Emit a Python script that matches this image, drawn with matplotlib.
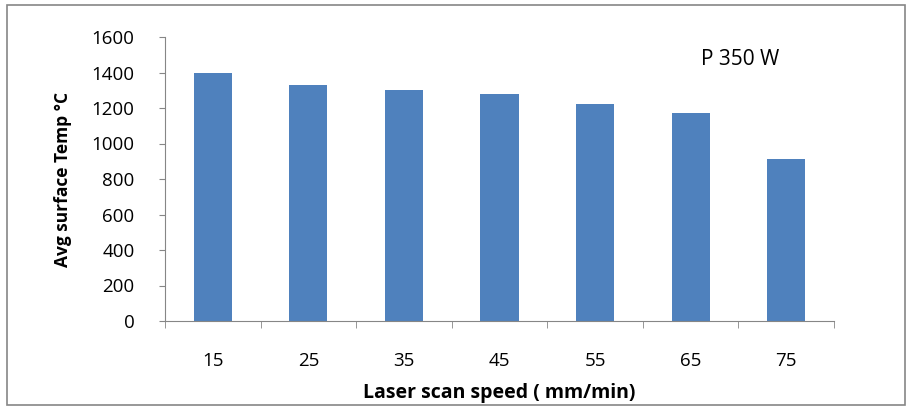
import matplotlib.pyplot as plt
import numpy as np
from matplotlib.patches import Rectangle

speeds = ['15', '25', '35', '45', '55', '65', '75']
temps = [1400, 1330, 1300, 1280, 1220, 1170, 915]
yticks = [0, 200, 400, 600, 800, 1000, 1200, 1400, 1600]

plt.rcParams['font.family'] = ['Open Sans', 'DejaVu Sans']

fig = plt.figure(figsize=(9.11, 4.07), dpi=100)
ax = fig.add_axes([165/911, 1 - 321/407, (834 - 165)/911, (321 - 37)/407])

x = np.arange(len(speeds))
ax.bar(x, temps, width=0.4, color='#4F81BD', zorder=2)

ax.set_xlim(-0.5, len(speeds) - 0.5)
ax.set_ylim(0, 1600)
ax.set_yticks(yticks)
ax.set_yticklabels([str(v) for v in yticks], fontsize=13.5)
ax.set_xticks(x)
ax.set_xticklabels(speeds, fontsize=13.5)
ax.set_xticks(np.arange(-0.5, len(speeds)), minor=True)
ax.tick_params(axis='x', which='major', length=0, pad=22)
ax.tick_params(axis='x', which='minor', length=5, color='#868686', direction='out')
ax.tick_params(axis='y', length=4, color='#868686', pad=18)

for s in ['top', 'right']:
    ax.spines[s].set_visible(False)
for s in ['left', 'bottom']:
    ax.spines[s].set_color('#868686')

ax.set_xlabel('Laser scan speed ( mm/min)', fontsize=14, fontweight='bold', labelpad=10)
ax.set_ylabel('Avg surface Temp °C', fontsize=12.5, fontweight='bold', labelpad=14)

ax.text(0.86, 0.92, 'P 350 W', transform=ax.transAxes, fontsize=15, ha='center', va='center')

# outer frame of the chart area
fig.patches.append(Rectangle((7/911, 2/407), 898/911, 400/407, transform=fig.transFigure,
                             fill=False, edgecolor='#868686', linewidth=1.2))

fig.savefig('out.png', dpi=100)
